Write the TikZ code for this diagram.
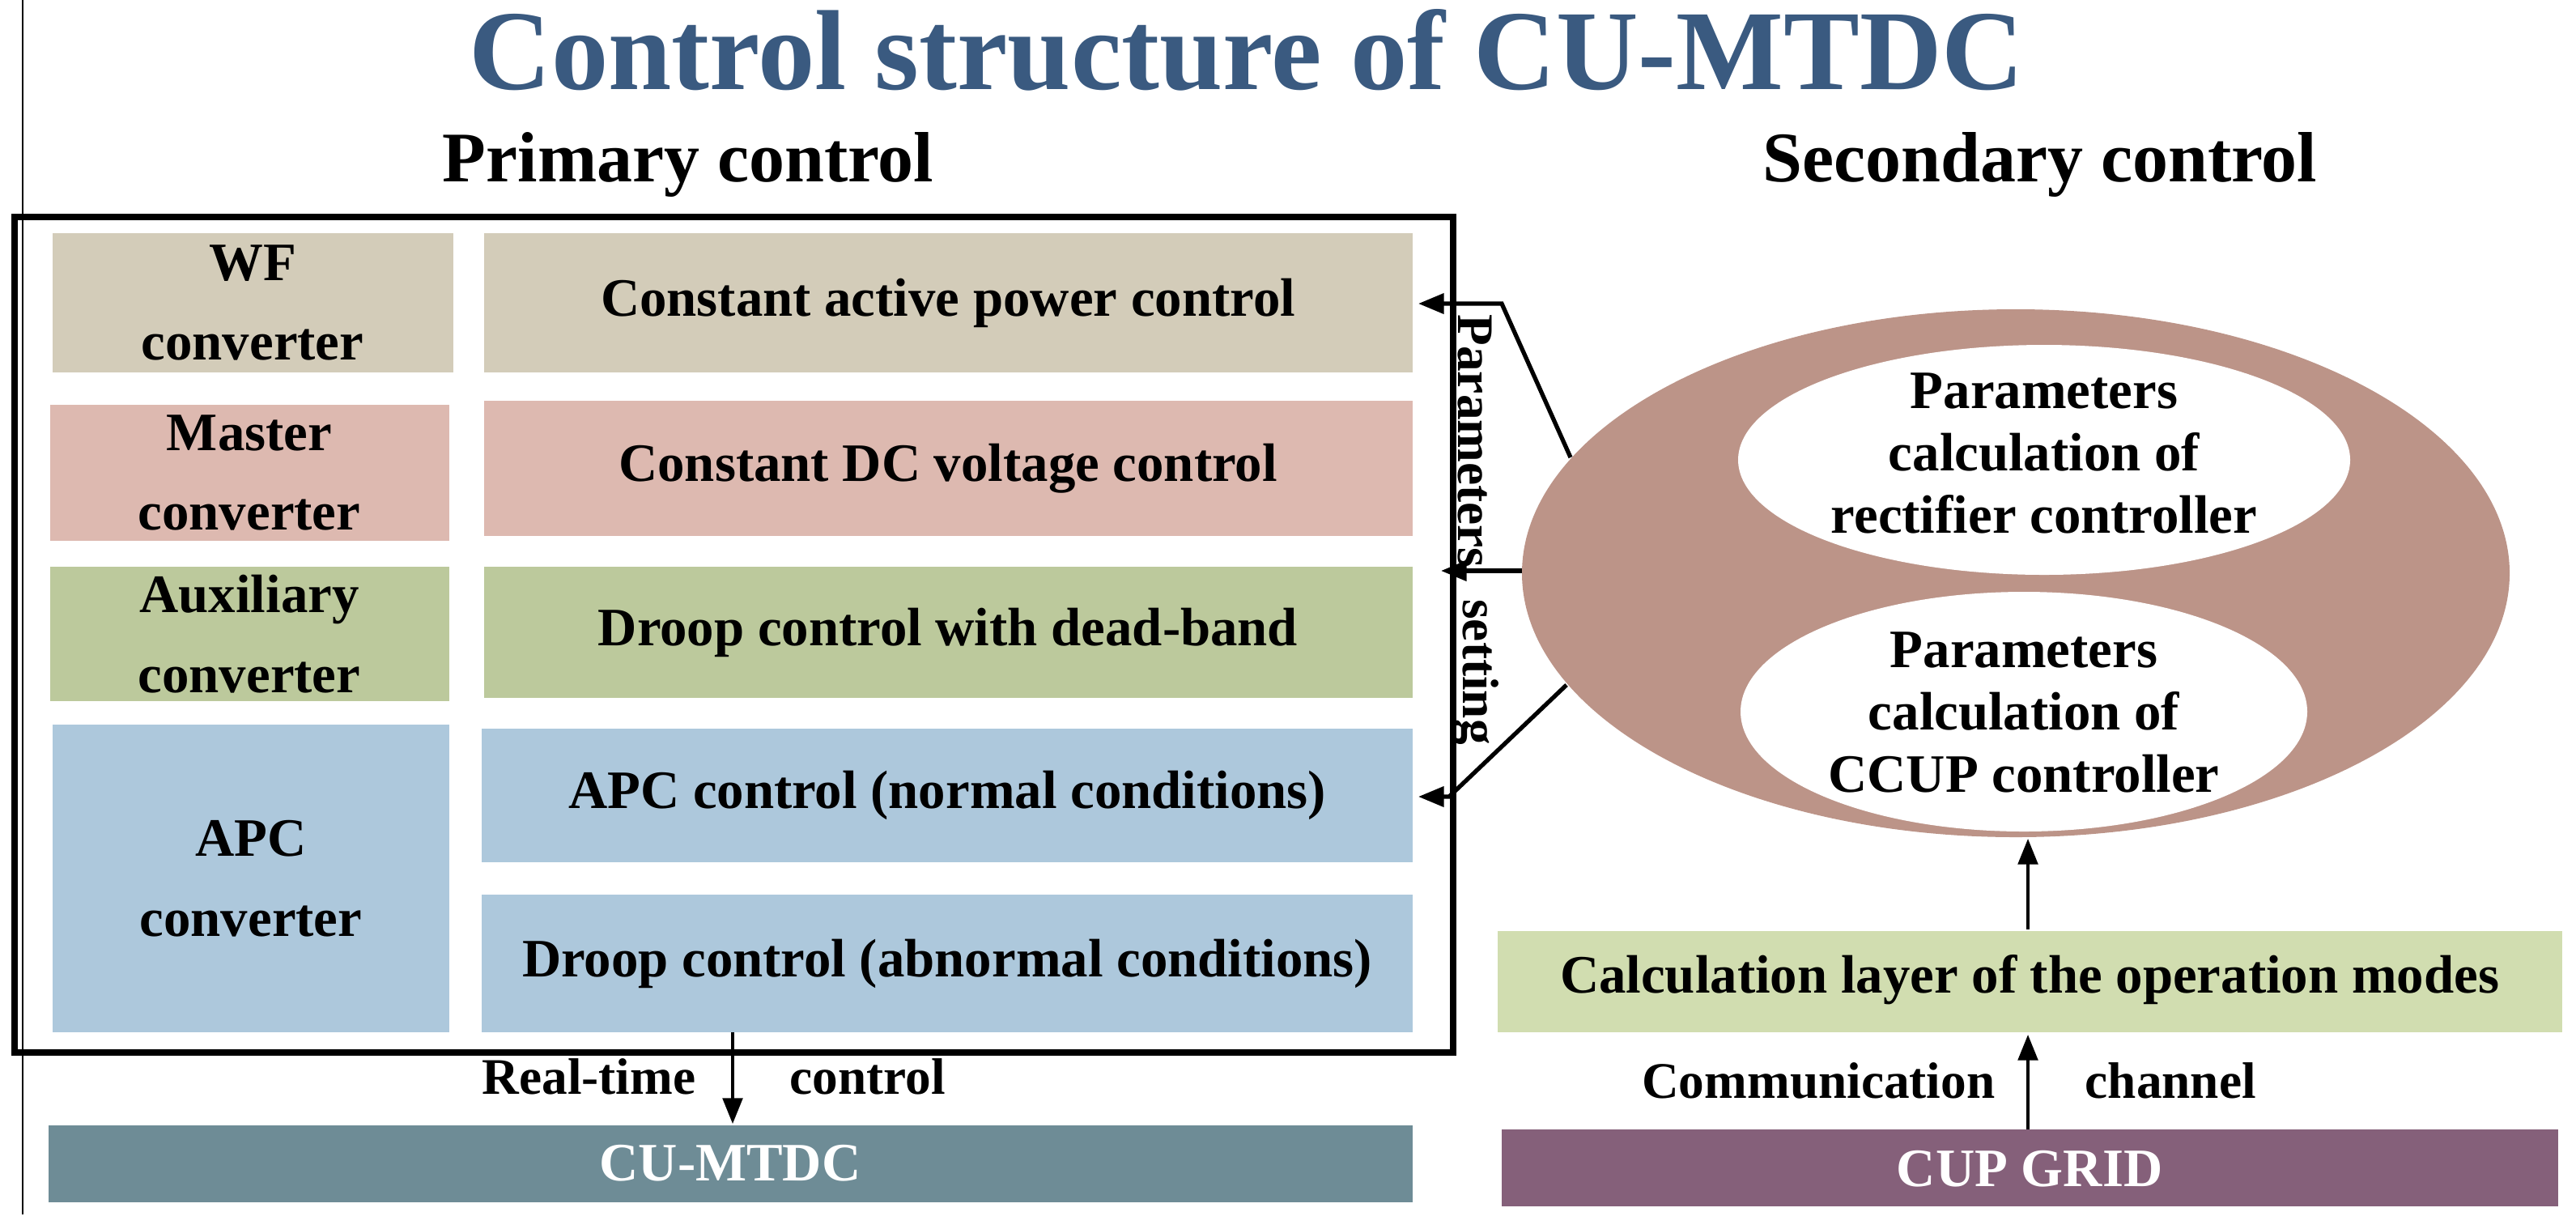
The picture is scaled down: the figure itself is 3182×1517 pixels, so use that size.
\documentclass[tikz,border=0pt]{standalone}
\usepackage{fontspec}
\setmainfont{Liberation Serif}
\usetikzlibrary{arrows.meta}
\definecolor{tit}{HTML}{3A5A80}
\definecolor{cwf}{HTML}{D3CCB9}
\definecolor{cms}{HTML}{DDB9B0}
\definecolor{cax}{HTML}{BCC99C}
\definecolor{cap}{HTML}{ADC8DC}
\definecolor{cel}{HTML}{BC9488}
\definecolor{ccl}{HTML}{D1DDB0}
\definecolor{cmt}{HTML}{6E8C96}
\definecolor{ccg}{HTML}{85607A}
\begin{document}
\begin{tikzpicture}[x=0.01cm,y=-0.01cm,
  bx/.style={draw=none,font=\fontsize{19}{22}\selectfont\bfseries,align=center,inner sep=0pt},
  arr/.style={line width=1.5pt,-{Triangle[length=9pt,width=7pt]}},
  lbl/.style={font=\fontsize{18}{21}\selectfont\bfseries,inner sep=0pt}]
\useasboundingbox (0,0) rectangle (3182,1517);
\draw[line width=0.6pt] (28,0) -- (28,1500);
\node[font=\fontsize{40}{44}\selectfont\bfseries,text=tit] (title) at (1540,62) {Control structure of CU-MTDC};
\node[font=\fontsize{25}{28}\selectfont\bfseries] (pc) at (850,203) {Primary control};
\node[font=\fontsize{25}{28}\selectfont\bfseries] (sc) at (2520,203) {Secondary control};
\draw[line width=2.5pt] (18,268) rectangle (1795,1300);
% rows
\path[fill=cwf] (65,288) rectangle (560,460);
\node[bx] (wf) at (312,374) {WF\\[6pt]converter};
\path[fill=cwf] (598,288) rectangle (1745,460);
\node[bx] (cap1) at (1171,374) {Constant active power control};
\path[fill=cms] (62,500) rectangle (555,668);
\node[bx] (ms) at (308,584) {Master\\[6pt]converter};
\path[fill=cms] (598,495) rectangle (1745,662);
\node[bx] (cdc) at (1171,579) {Constant DC voltage control};
\path[fill=cax] (62,700) rectangle (555,866);
\node[bx] (ax) at (308,783) {Auxiliary\\[6pt]converter};
\path[fill=cax] (598,700) rectangle (1745,862);
\node[bx] (drb) at (1171,781) {Droop control with dead-band};
\path[fill=cap] (65,895) rectangle (555,1275);
\node[bx] (apc) at (310,1085) {APC\\[6pt]converter};
\path[fill=cap] (595,900) rectangle (1745,1065);
\node[bx] (apcn) at (1170,982) {APC control (normal conditions)};
\path[fill=cap] (595,1105) rectangle (1745,1275);
\node[bx] (apca) at (1170,1190) {Droop control (abnormal conditions)};
% ellipses
\path[fill=cel] (2490,708) ellipse [x radius=610,y radius=326];
\path[fill=white] (2525,568) ellipse [x radius=378,y radius=142];
\path[fill=white] (2500,879) ellipse [x radius=350,y radius=148];
\node[bx] (e1) at (2525,560) {Parameters\\calculation of\\rectifier controller};
\node[bx] (e2) at (2500,880) {Parameters\\calculation of\\CCUP controller};
\coordinate (t1) at (1940,565);
\coordinate (t2) at (1880,705);
\coordinate (t3) at (1935,846);
\coordinate (h1) at (1752,375);
\coordinate (h2) at (1780,705);
\coordinate (h3) at (1752,984);
\draw[arr] (t1) -- (1855,375) -- (h1);
\draw[arr] (t2) -- (h2);
\draw[arr] (t3) -- (1790,984) -- (h3);
\node[lbl,rotate=-90] (ps1) at (1822,545) {Parameters};
\node[lbl,rotate=-90] (ps2) at (1822,830) {setting};
% bottom left
\path[fill=cmt] (60,1390) rectangle (1745,1485);
\node[bx,text=white] (mtdc) at (902,1437) {CU-MTDC};
\coordinate (rt) at (905,1275);
\coordinate (rb) at (905,1388);
\draw[arr,line width=1pt] (rt) -- (rb);
\node[lbl,anchor=east] (rtl) at (860,1330) {Real-time};
\node[lbl,anchor=west] (rtc) at (975,1330) {control};
% bottom right
\path[fill=ccl] (1850,1150) rectangle (3165,1275);
\node[bx] (cl) at (2507,1210) {Calculation layer of the operation modes};
\path[fill=ccg] (1855,1395) rectangle (3160,1490);
\node[bx,text=white] (cg) at (2507,1444) {CUP GRID};
\coordinate (cb) at (2505,1395);
\coordinate (ct) at (2505,1278);
\draw[arr,line width=1pt] (cb) -- (ct);
\coordinate (ub) at (2505,1148);
\coordinate (ut) at (2505,1036);
\draw[arr,line width=1pt] (ub) -- (ut);
\node[lbl,anchor=east] (cml) at (2465,1335) {Communication};
\node[lbl,anchor=west] (chl) at (2575,1335) {channel};
\end{tikzpicture}
\end{document}
